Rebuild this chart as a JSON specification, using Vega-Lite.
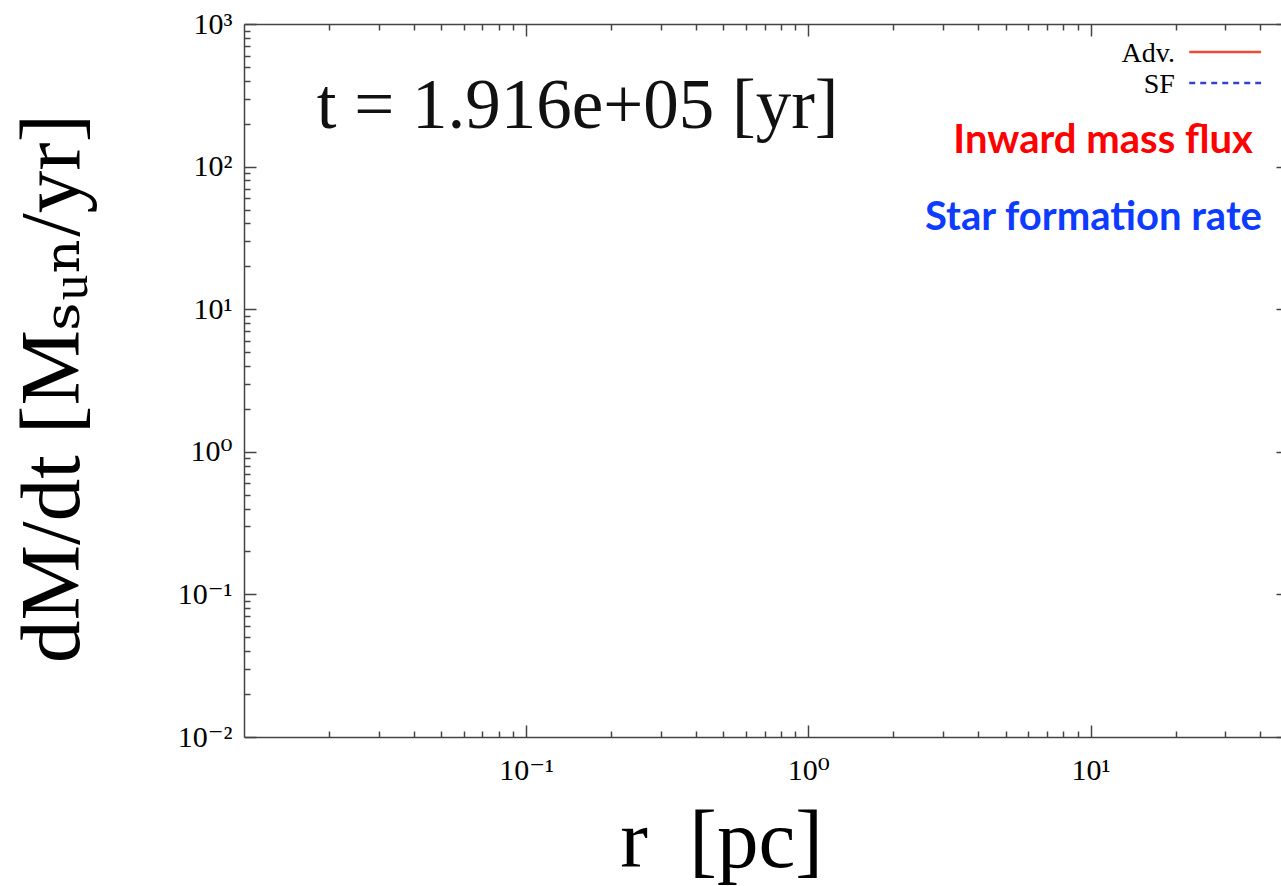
{
  "$schema": "https://vega.github.io/schema/vega-lite/v6.json",
  "width": 1037,
  "height": 713,
  "autosize": {"type": "none"},
  "padding": {"left": 244, "top": 24, "right": 0, "bottom": 149},
  "background": "white",
  "config": {
    "view": {"stroke": null},
    "axis": {
      "grid": false,
      "domainColor": "#444",
      "domainWidth": 1.5,
      "tickColor": "#444",
      "tickWidth": 1.5,
      "labelFont": "Liberation Serif, DejaVu Serif",
      "labelFontSize": 30,
      "labelColor": "#000",
      "titleFont": "Liberation Serif, DejaVu Serif",
      "titleFontWeight": "normal",
      "titleColor": "#000"
    }
  },
  "datasets": {
    "adv": [{"r": 22.37, "v": 636.8}, {"r": 40.2, "v": 636.8}],
    "sf": [{"r": 22.37, "v": 386}, {"r": 40.2, "v": 386}],
    "time": [{"r": 0.0181, "v": 186.7, "label": "t = 1.916e+05 [yr]"}],
    "keys": [{"r": 19.9, "v": 542, "label": "Adv."}, {"r": 19.9, "v": 328.6, "label": "SF"}],
    "notes": [{"r": 37.6, "v": 124.7, "label": "Inward mass flux"}, {"r": 40.5, "v": 36.0, "label": "Star formation rate"}]
  },
  "layer": [
    {
      "data": {"name": "adv"},
      "mark": {"type": "line", "color": "#F04A35", "strokeWidth": 2.5},
      "encoding": {
        "x": {"field": "r", "type": "quantitative",
          "scale": {"type": "log", "domain": [0.01, 47.3], "nice": false},
          "axis": {"orient": "bottom", "values": [0.1, 1, 10], "tickSize": -12,
            "labelExpr": "datum.value < 0.5 ? '10⁻¹' : datum.value < 5 ? '10⁰' : '10¹'",
            "labelPadding": 30, "labelBaseline": "top",
            "title": "r\u00a0\u00a0[pc]", "titleFontSize": 83, "titleX": 477, "titleY": 129, "titleBaseline": "alphabetic", "titleAnchor": null, "titleAlign": "center"}},
        "y": {"field": "v", "type": "quantitative",
          "scale": {"type": "log", "domain": [0.01, 1000], "nice": false},
          "axis": {"orient": "left", "values": [0.01, 0.1, 1, 10, 100, 1000], "tickSize": -12,
            "labelExpr": "datum.value < 0.05 ? '10⁻²' : datum.value < 0.5 ? '10⁻¹' : datum.value < 5 ? '10⁰' : datum.value < 50 ? '10¹' : datum.value < 500 ? '10²' : '10³'",
            "labelPadding": 24,
            "title": "dM/dt [Mₛᵤₙ/yr]", "titleFontSize": 85, "titleX": -166, "titleY": 364, "titleAngle": 270, "titleBaseline": "alphabetic", "titleAlign": "center", "titleAnchor": null}}
      }
    },
    {
      "data": {"name": "sf"},
      "mark": {"type": "line", "color": "#3344CC", "strokeWidth": 2.5, "strokeDash": [6, 5]},
      "encoding": {
        "x": {"field": "r", "type": "quantitative",
          "axis": {"orient": "bottom", "values": [0.02, 0.03, 0.04, 0.05, 0.06, 0.07, 0.08, 0.09, 0.2, 0.3, 0.4, 0.5, 0.6, 0.7, 0.8, 0.9, 2, 3, 4, 5, 6, 7, 8, 9, 20, 30, 40],
            "tickSize": -6, "labels": false, "domain": false, "title": null}},
        "y": {"field": "v", "type": "quantitative",
          "axis": {"orient": "left", "values": [0.02, 0.03, 0.04, 0.05, 0.06, 0.07, 0.08, 0.09, 0.2, 0.3, 0.4, 0.5, 0.6, 0.7, 0.8, 0.9, 2, 3, 4, 5, 6, 7, 8, 9, 20, 30, 40, 50, 60, 70, 80, 90, 200, 300, 400, 500, 600, 700, 800, 900],
            "tickSize": -6, "labels": false, "domain": false, "title": null}}
      }
    },
    {
      "data": {"name": "time"},
      "mark": {"type": "text", "font": "Liberation Serif", "fontSize": 71, "align": "left", "baseline": "alphabetic", "color": "#111"},
      "encoding": {
        "text": {"field": "label"},
        "x": {"field": "r", "type": "quantitative",
          "axis": {"orient": "top", "values": [0.1, 1, 10], "tickSize": -12, "labels": false, "domain": true, "title": null}},
        "y": {"field": "v", "type": "quantitative",
          "axis": {"orient": "right", "offset": 7, "values": [0.01, 0.1, 1, 10, 100, 1000], "tickSize": -12, "labels": false, "domain": false, "title": null}}
      }
    },
    {
      "data": {"name": "keys"},
      "mark": {"type": "text", "font": "Liberation Serif", "fontSize": 28, "align": "right", "baseline": "alphabetic", "color": "#000"},
      "encoding": {
        "text": {"field": "label"},
        "x": {"field": "r", "type": "quantitative",
          "axis": {"orient": "top", "values": [0.02, 0.03, 0.04, 0.05, 0.06, 0.07, 0.08, 0.09, 0.2, 0.3, 0.4, 0.5, 0.6, 0.7, 0.8, 0.9, 2, 3, 4, 5, 6, 7, 8, 9, 20, 30, 40],
            "tickSize": -6, "labels": false, "domain": false, "title": null}},
        "y": {"field": "v", "type": "quantitative",
          "axis": {"orient": "right", "offset": 7, "values": [0.02, 0.03, 0.04, 0.05, 0.06, 0.07, 0.08, 0.09, 0.2, 0.3, 0.4, 0.5, 0.6, 0.7, 0.8, 0.9, 2, 3, 4, 5, 6, 7, 8, 9, 20, 30, 40, 50, 60, 70, 80, 90, 200, 300, 400, 500, 600, 700, 800, 900],
            "tickSize": -6, "labels": false, "domain": false, "title": null}}
      }
    },
    {
      "data": {"name": "notes"},
      "mark": {"type": "text", "font": "Lato", "fontWeight": "bold", "fontSize": 40, "align": "right", "baseline": "alphabetic"},
      "encoding": {
        "text": {"field": "label"},
        "x": {"field": "r", "type": "quantitative", "axis": null},
        "y": {"field": "v", "type": "quantitative", "axis": null},
        "color": {"field": "label", "type": "nominal", "legend": null,
          "scale": {"domain": ["Inward mass flux", "Star formation rate"], "range": ["#FF0000", "#0D3BFF"]}}
      }
    }
  ],
  "resolve": {"axis": {"x": "independent", "y": "independent"}}
}
